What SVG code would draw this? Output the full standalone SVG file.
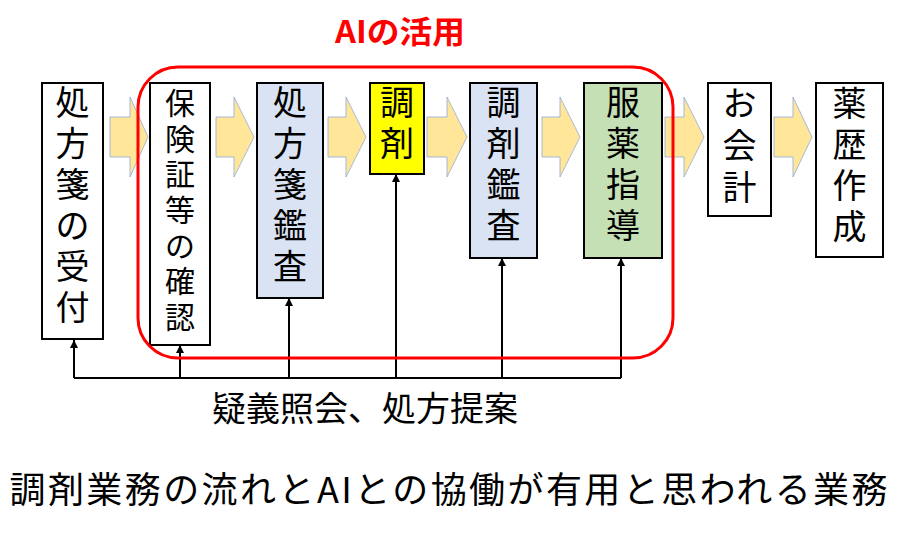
<svg xmlns="http://www.w3.org/2000/svg" width="900" height="540" viewBox="0 0 900 540">
<defs>
<style>
.box{stroke:#000;stroke-width:2}
.t{font-family:"Noto Sans CJK JP","Noto Sans",sans-serif;fill:#000;text-anchor:middle}
.big{font-size:34px}
.small{font-size:30px}
.flow{fill:#ffe699;stroke:#8faadc;stroke-width:0.8}
.conn{fill:none;stroke:#000;stroke-width:2}
</style>
<marker id="ah" viewBox="0 0 10 10" refX="10" refY="5" markerWidth="4" markerHeight="4" orient="auto" markerUnits="strokeWidth">
<path d="M0,0 L10,5 L0,10 z" fill="#000"/>
</marker>
</defs>
<rect width="900" height="540" fill="#fff"/>

<g id="flow-arrows">
<polygon class="flow" points="110,117 130,117 130,97 148,137 130,177 130,157 110,157"/>
<polygon class="flow" points="216,117 234,117 234,97 254,137 234,177 234,157 216,157"/>
<polygon class="flow" points="328,117 346,117 346,97 366,137 346,177 346,157 328,157"/>
<polygon class="flow" points="427,117 447,117 447,97 467,137 447,177 447,157 427,157"/>
<polygon class="flow" points="542,117 560,117 560,97 580,137 560,177 560,157 542,157"/>
<polygon class="flow" points="665,117 684,117 684,97 704,137 684,177 684,157 665,157"/>
<polygon class="flow" points="774,117 793,117 793,97 812,137 793,177 793,157 774,157"/>
</g>

<g id="n1">
<rect class="box" x="42" y="83" width="61" height="256" fill="#fff"/>
<text class="t big"><tspan x="72.5" y="115">処</tspan><tspan x="72.5" y="156">方</tspan><tspan x="72.5" y="197">箋</tspan><tspan x="72.5" y="238">の</tspan><tspan x="72.5" y="279">受</tspan><tspan x="72.5" y="320">付</tspan></text>
</g>
<g id="n2">
<rect class="box" x="150" y="83" width="60" height="262" fill="#fff"/>
<text class="t small"><tspan x="180" y="114">保</tspan><tspan x="180" y="150">険</tspan><tspan x="180" y="185">証</tspan><tspan x="180" y="221">等</tspan><tspan x="180" y="257">の</tspan><tspan x="180" y="292">確</tspan><tspan x="180" y="328">認</tspan></text>
</g>
<g id="n3">
<rect class="box" x="257" y="83" width="66" height="215" fill="#dae3f3"/>
<text class="t big"><tspan x="290" y="115">処</tspan><tspan x="290" y="156">方</tspan><tspan x="290" y="197">箋</tspan><tspan x="290" y="238">鑑</tspan><tspan x="290" y="279">査</tspan></text>
</g>
<g id="n4">
<rect class="box" x="370" y="83" width="54" height="91" fill="#ffff00"/>
<text class="t big"><tspan x="397" y="115">調</tspan><tspan x="397" y="156">剤</tspan></text>
</g>
<g id="n5">
<rect class="box" x="470" y="83" width="67" height="175" fill="#dae3f3"/>
<text class="t big"><tspan x="503.5" y="115">調</tspan><tspan x="503.5" y="156">剤</tspan><tspan x="503.5" y="197">鑑</tspan><tspan x="503.5" y="238">査</tspan></text>
</g>
<g id="n6">
<rect class="box" x="584" y="83" width="78" height="175" fill="#c5e0b4"/>
<text class="t big"><tspan x="623" y="115">服</tspan><tspan x="623" y="156">薬</tspan><tspan x="623" y="197">指</tspan><tspan x="623" y="238">導</tspan></text>
</g>
<g id="n7">
<rect class="box" x="708" y="83" width="63" height="133" fill="#fff"/>
<text class="t big"><tspan x="739.5" y="116">お</tspan><tspan x="739.5" y="158">会</tspan><tspan x="739.5" y="200">計</tspan></text>
</g>
<g id="n8">
<rect class="box" x="816" y="83" width="67" height="174" fill="#fff"/>
<text class="t big"><tspan x="849.5" y="116">薬</tspan><tspan x="849.5" y="157">歴</tspan><tspan x="849.5" y="198">作</tspan><tspan x="849.5" y="239">成</tspan></text>
</g>

<g id="connectors">
<path class="conn" d="M74,378 H621"/>
<path class="conn" d="M74,378 V340" marker-end="url(#ah)"/>
<path class="conn" d="M180,378 V345" marker-end="url(#ah)"/>
<path class="conn" d="M289,378 V298" marker-end="url(#ah)"/>
<path class="conn" d="M396,378 V174" marker-end="url(#ah)"/>
<path class="conn" d="M502,378 V258" marker-end="url(#ah)"/>
<path class="conn" d="M621,378 V258" marker-end="url(#ah)"/>
</g>

<g id="ai-region">
<rect x="138" y="67" width="535" height="291" rx="40" ry="40" fill="none" stroke="#ff0000" stroke-width="3"/>
<text x="400" y="43" font-family="'Noto Sans CJK JP','Noto Sans',sans-serif" font-size="31" font-weight="bold" fill="#ff0000" text-anchor="middle" textLength="130" lengthAdjust="spacingAndGlyphs">AIの活用</text>
</g>

<text id="feedback-label" class="t" x="365" y="421" font-size="34">疑義照会、処方提案</text>
<text id="caption" class="t" x="448.5" y="503" font-size="36" textLength="878" lengthAdjust="spacing">調剤業務の流れとAIとの協働が有用と思われる業務</text>
</svg>
